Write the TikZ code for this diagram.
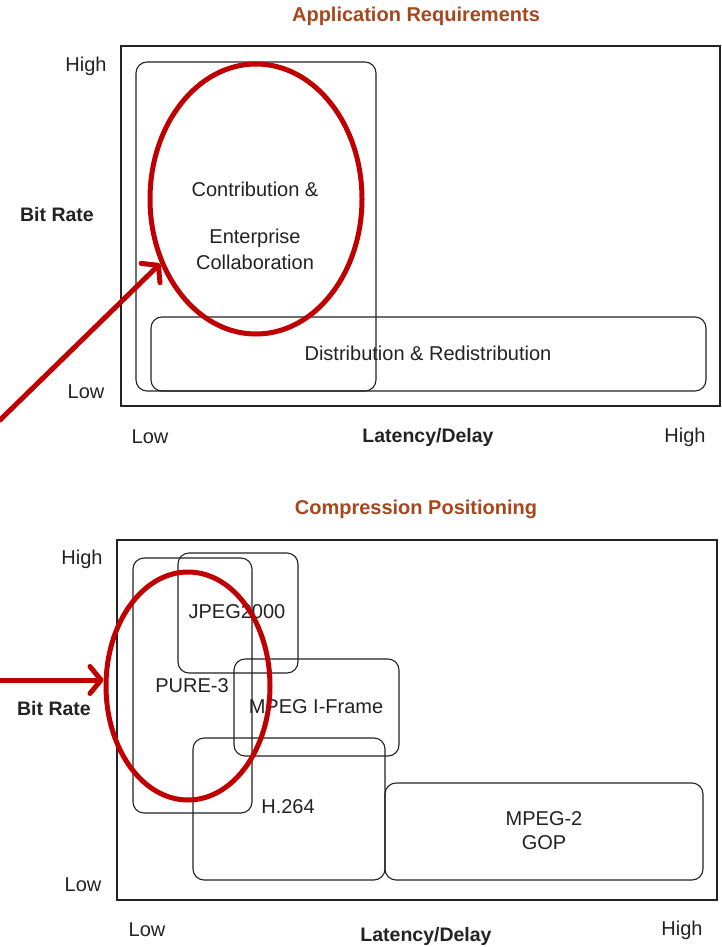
\documentclass[tikz,border=0pt]{standalone}
\usepackage{fontspec}
\setmainfont{Liberation Sans}
\usetikzlibrary{arrows.meta,shapes.geometric,fit}
\definecolor{titlebrown}{RGB}{166,72,30}
\definecolor{markred}{RGB}{192,0,0}
\definecolor{inkgray}{RGB}{35,35,35}
\begin{document}
\begin{tikzpicture}[x=1pt,y=-1pt,
  panel/.style={draw=inkgray,line width=1.4pt,inner sep=0pt},
  zone/.style={draw=inkgray,line width=1.1pt,rounded corners=11pt,inner sep=0pt},
  lbl/.style={font=\fontsize{20}{23}\selectfont,text=inkgray,inner sep=0pt},
  axislbl/.style={font=\fontsize{19.5}{23}\selectfont\bfseries,text=inkgray,inner sep=0pt},
  heading/.style={font=\fontsize{20}{23}\selectfont\bfseries,text=titlebrown,inner sep=0pt},
  ring/.style={ellipse,draw=markred,line width=5pt,inner sep=0pt},
  pointer/.style={draw=markred,line width=5pt,line cap=round,
    -{Straight Barb[length=11pt,width=27pt,round]}}]
\useasboundingbox[fill=white] (0,0) rectangle (722,947);

% ---------- upper chart: application requirements ----------
\node[heading] (t1) at (416,16) {Application Requirements};
\node[panel,fit={(121,46)(720,406)}] (p1) {};
\node[lbl] (hi1) at (86,66) {High};
\node[lbl] (lo1) at (86,392) {Low};
\node[axislbl] (br1) at (57,215) {Bit Rate};
\node[lbl] (xlo1) at (150,437) {Low};
\node[axislbl] (xl1) at (428,437) {Latency/Delay};
\node[lbl] (xhi1) at (685,437) {High};

\node[zone,fit={(136,62)(376,391)}] (contrib) {};
\node[zone,fit={(151,317)(706,391)}] (distrib) {};
\node[lbl] (c1) at (255,189) {Contribution \&};
\node[lbl] (c2) at (255,238) {Enterprise};
\node[lbl] (c3) at (255,262) {Collaboration};
\node[lbl] (d1) at (428,353) {Distribution \& Redistribution};

\node[ring,minimum width=212pt,minimum height=270pt] (ell1) at (256,199) {};
\coordinate (a1) at (0,420);
\draw[pointer] (a1) -- (ell1.214);

% ---------- lower chart: compression positioning ----------
\node[heading] (t2) at (416,509) {Compression Positioning};
\node[panel,fit={(117,540)(717,900)}] (p2) {};
\node[lbl] (hi2) at (82,559) {High};
\node[lbl] (lo2) at (83,885) {Low};
\node[axislbl] (br2) at (54,709) {Bit Rate};
\node[lbl] (xlo2) at (147,930) {Low};
\node[axislbl] (xl2) at (426,936) {Latency/Delay};
\node[lbl] (xhi2) at (682,930) {High};

\node[zone,fit={(133,558)(252,813)}] (pure) {};
\node[zone,fit={(178,553)(298,673)}] (jpeg) {};
\node[zone,fit={(234,659)(399,756)}] (iframe) {};
\node[zone,fit={(193,738)(385,880)}] (h264) {};
\node[zone,fit={(385,783)(703,880)}] (gop) {};
\node[lbl] (n1) at (192,686) {PURE-3};
\node[lbl] (n2) at (237,612) {JPEG2000};
\node[lbl] (n3) at (316,707) {MPEG I-Frame};
\node[lbl] (n4) at (288,807) {H.264};
\node[lbl] (n5) at (544,819) {MPEG-2};
\node[lbl] (n6) at (544,843) {GOP};

\node[ring,minimum width=164pt,minimum height=228pt] (ell2) at (188,686) {};
\coordinate (a2) at (0,680);
\draw[pointer] (a2) -- (a2 -| ell2.west);
\end{tikzpicture}
\end{document}
